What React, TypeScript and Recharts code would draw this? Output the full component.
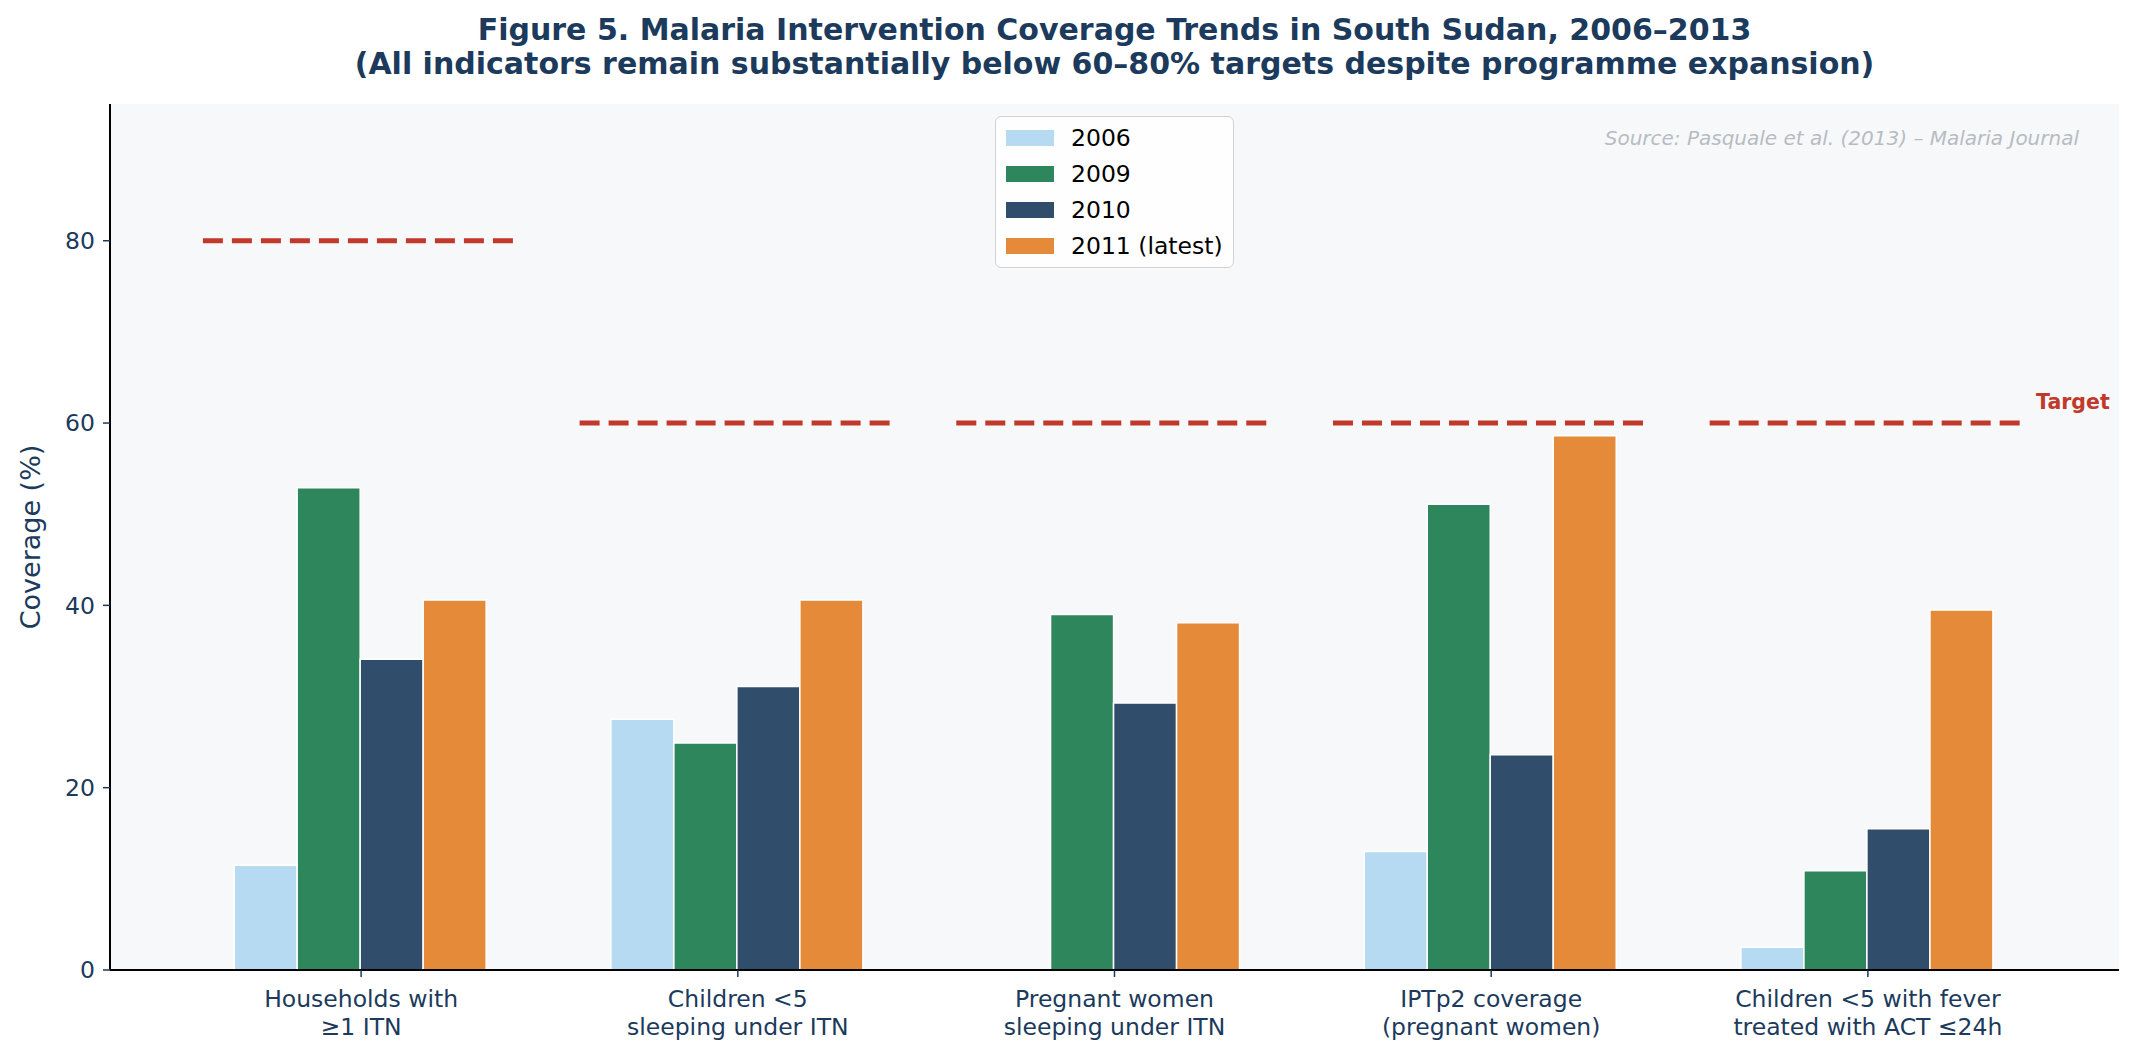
import {
  Bar,
  CartesianGrid,
  ComposedChart,
  Legend,
  ReferenceLine,
  XAxis,
  YAxis,
} from 'recharts';

const CATEGORIES = [
  'Households with\n≥1 ITN',
  'Children <5\nsleeping under ITN',
  'Pregnant women\nsleeping under ITN',
  'IPTp2 coverage\n(pregnant women)',
  'Children <5 with fever\ntreated with ACT ≤24h',
];

const COV_2006 = [11.5, 27.5, null, 13.0, 2.5];
const COV_2009 = [52.9, 24.9, 39.0, 51.1, 10.9];
const COV_2010 = [34.1, 31.1, 29.3, 23.6, 15.5];
const COV_2011 = [40.6, 40.6, 38.1, 58.6, 39.5];

const TARGETS = [80, 60, 60, 60, 60];
const Y_TICKS = [0, 20, 40, 60, 80];

const SERIES = [
  { key: 'y2006', name: '2006', color: '#b6daf1' },
  { key: 'y2009', name: '2009', color: '#2e865c' },
  { key: 'y2010', name: '2010', color: '#304e6b' },
  { key: 'y2011', name: '2011 (latest)', color: '#e58a38' },
];

const data = CATEGORIES.map((cat, i) => ({
  cat,
  pos: i,
  y2006: COV_2006[i],
  y2009: COV_2009[i],
  y2010: COV_2010[i],
  y2011: COV_2011[i],
}));

const W = 2137;
const H = 1057;
const FONT = '"DejaVu Sans", Verdana, sans-serif';
const NAVY = '#1b3a5c';
const RED = '#c0392b';

// target dash spans +/- this much around each category centre (in category units)
const HALF_SPAN = 0.42;
// numeric overlay axis: category i sits at x = i, with 2/3 unit of room at each end
const X_DOMAIN = [-2 / 3, CATEGORIES.length - 1 + 2 / 3];

const MARGIN = { top: 104, right: 18, bottom: 0, left: 0 };
const Y_AXIS_W = 110;
const X_AXIS_H = 87;
const PLOT_W = W - MARGIN.left - MARGIN.right - Y_AXIS_W;
const UNIT = PLOT_W / (X_DOMAIN[1] - X_DOMAIN[0]);
const BAND_PAD = (PLOT_W - CATEGORIES.length * UNIT) / 2;

function CategoryTick({ x, y, payload }: any) {
  const lines = String(payload.value).split('\n');
  return (
    <text x={x} y={y} textAnchor="middle" fill={NAVY} fontFamily={FONT} fontSize={23.5}>
      {lines.map((ln, i) => (
        <tspan key={i} x={x} dy={i === 0 ? 28 : 27.5}>
          {ln}
        </tspan>
      ))}
    </text>
  );
}

function YTitle({ viewBox }: any) {
  const cx = viewBox.x + 30;
  const cy = viewBox.y + viewBox.height / 2;
  return (
    <text
      x={cx}
      y={cy}
      transform={`rotate(-90 ${cx} ${cy})`}
      textAnchor="middle"
      dominantBaseline="central"
      fill={NAVY}
      fontFamily={FONT}
      fontSize={27}
    >
      Coverage (%)
    </text>
  );
}

function LegendBox({ payload }: any) {
  return (
    <div
      style={{
        border: '1.5px solid #d2d2d2',
        borderRadius: 6,
        background: 'rgba(255,255,255,0.8)',
        padding: '3px 10px 3px 10px',
        fontFamily: FONT,
        fontSize: 23.5,
        color: '#000',
      }}
    >
      {(payload || []).map((e: any) => (
        <div key={e.value} style={{ display: 'flex', alignItems: 'center', height: 36 }}>
          <span
            style={{
              display: 'inline-block',
              width: 48,
              height: 16,
              background: e.color,
              marginRight: 17,
            }}
          />
          <span>{e.value}</span>
        </div>
      ))}
    </div>
  );
}

function TargetLabel({ viewBox }: any) {
  return (
    <text
      x={viewBox.x + viewBox.width + 10}
      y={viewBox.y - 14}
      fill={RED}
      fontFamily={FONT}
      fontWeight="bold"
      fontSize={20.5}
    >
      Target
    </text>
  );
}

export default function App() {
  return (
    <div style={{ position: 'absolute', left: 0, top: 0, width: W, height: H, background: '#fff' }}>
      <div
        style={{
          position: 'absolute',
          top: 13,
          left: Y_AXIS_W,
          width: PLOT_W,
          textAlign: 'center',
          fontFamily: FONT,
          fontWeight: 'bold',
          fontSize: 30,
          lineHeight: '34px',
          color: NAVY,
        }}
      >
        <div>Figure 5. Malaria Intervention Coverage Trends in South Sudan, 2006–2013</div>
        <div>(All indicators remain substantially below 60–80% targets despite programme expansion)</div>
      </div>

      <ComposedChart
        width={W}
        height={H}
        data={data}
        margin={MARGIN}
        barCategoryGap="16.3%"
        barGap={0}
      >
        <CartesianGrid fill="#f7f8fa" horizontal={false} vertical={false} />
        <XAxis
          dataKey="cat"
          interval={0}
          height={X_AXIS_H}
          padding={{ left: BAND_PAD, right: BAND_PAD }}
          axisLine={{ stroke: '#000', strokeWidth: 2 }}
          tickLine={{ stroke: NAVY, strokeWidth: 1.5 }}
          tickSize={7}
          tick={<CategoryTick />}
        />
        <XAxis
          xAxisId="t"
          dataKey="pos"
          type="number"
          domain={X_DOMAIN}
          allowDataOverflow
          hide
        />
        <YAxis
          width={Y_AXIS_W}
          domain={[0, 95]}
          ticks={Y_TICKS}
          axisLine={{ stroke: '#000', strokeWidth: 2 }}
          tickLine={{ stroke: NAVY, strokeWidth: 1.5 }}
          tickSize={7}
          tickMargin={8}
          tick={{ fill: NAVY, fontFamily: FONT, fontSize: 23.5 }}
          label={<YTitle />}
        />
        <Legend
          verticalAlign="middle"
          align="center"
          layout="vertical"
          content={<LegendBox />}
          wrapperStyle={{ position: 'absolute', left: 995, top: 116, width: 'auto' }}
        />
        {SERIES.map((s) => (
          <Bar
            key={s.key}
            dataKey={s.key}
            name={s.name}
            fill={s.color}
            stroke="#fff"
            strokeWidth={1.5}
            isAnimationActive={false}
          />
        ))}
        {TARGETS.map((t, i) => (
          <ReferenceLine
            key={i}
            xAxisId="t"
            ifOverflow="visible"
            segment={[
              { x: i - HALF_SPAN, y: t },
              { x: i + HALF_SPAN, y: t },
            ]}
            stroke={RED}
            strokeWidth={5}
            strokeDasharray="20 9"
            label={i === TARGETS.length - 1 ? <TargetLabel /> : undefined}
          />
        ))}
      </ComposedChart>

      <div
        style={{
          position: 'absolute',
          top: 126,
          right: 58,
          fontFamily: FONT,
          fontStyle: 'italic',
          fontSize: 20,
          color: '#b8bcc2',
        }}
      >
        Source: Pasquale et al. (2013) – Malaria Journal
      </div>
    </div>
  );
}
